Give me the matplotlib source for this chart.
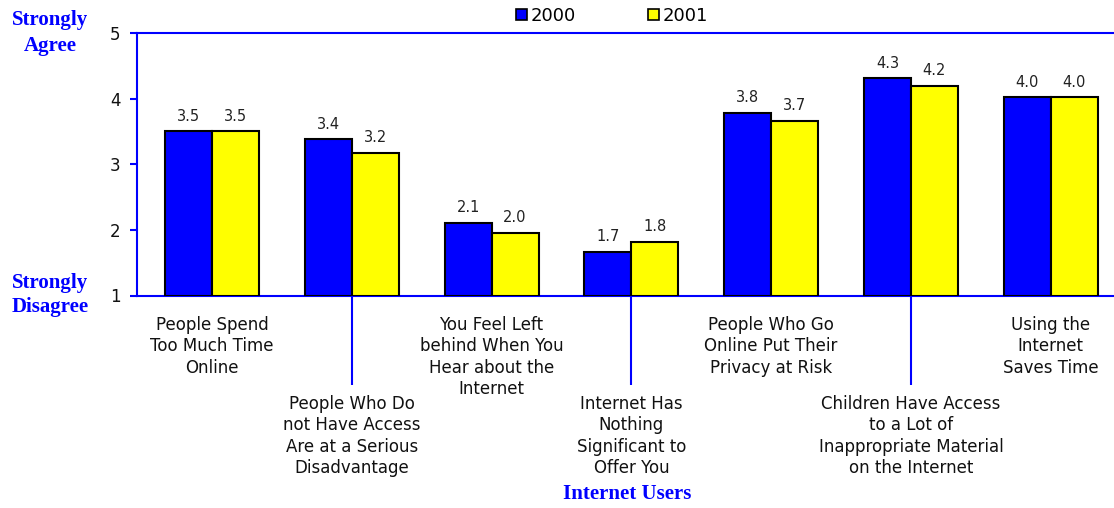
import matplotlib
matplotlib.use("Agg")
import matplotlib.pyplot as plt
from matplotlib.patches import Patch
from matplotlib.transforms import blended_transform_factory
import numpy as np

categories = [
    "People Spend\nToo Much Time\nOnline",
    "People Who Do\nnot Have Access\nAre at a Serious\nDisadvantage",
    "You Feel Left\nbehind When You\nHear about the\nInternet",
    "Internet Has\nNothing\nSignificant to\nOffer You",
    "People Who Go\nOnline Put Their\nPrivacy at Risk",
    "Children Have Access\nto a Lot of\nInappropriate Material\non the Internet",
    "Using the\nInternet\nSaves Time",
]
series_names = ["2000", "2001"]
values_2000 = [3.50, 3.38, 2.11, 1.67, 3.78, 4.31, 4.02]
values_2001 = [3.50, 3.17, 1.96, 1.82, 3.66, 4.20, 4.02]
yticks = [1, 2, 3, 4, 5]

BLUE = "#0000FF"
YELLOW = "#FFFF00"

W, H = 1114, 508
fig = plt.figure(figsize=(W / 100, H / 100), dpi=100)
ax_left, ax_right = 137 / W, 1114 / W
ax_top, ax_bot = 1 - 33 / H, 1 - 295.5 / H
ax = fig.add_axes([ax_left, ax_bot, ax_right - ax_left, ax_top - ax_bot])

x = np.arange(len(categories))
bw = 0.336
ax.bar(x - bw / 2, np.array(values_2000) - 1, bw, bottom=1, color=BLUE,
       edgecolor="black", linewidth=1.5, zorder=3)
ax.bar(x + bw / 2, np.array(values_2001) - 1, bw, bottom=1, color=YELLOW,
       edgecolor="black", linewidth=1.5, zorder=3)

for xi, v in zip(x - bw / 2, values_2000):
    ax.annotate(f"{v:.1f}", (xi, v), xytext=(0, 5.5), textcoords="offset points",
                ha="center", va="bottom", fontsize=10.5, color="#222222")
for xi, v in zip(x + bw / 2, values_2001):
    ax.annotate(f"{v:.1f}", (xi, v), xytext=(0, 5.5), textcoords="offset points",
                ha="center", va="bottom", fontsize=10.5, color="#222222")

ax.set_xlim(-0.536, 6.452)
ax.set_ylim(1, 5)
ax.set_yticks(yticks)
ax.tick_params(axis="y", direction="out", length=5, width=1.5, color=BLUE,
               labelsize=12, pad=7, labelcolor="#111111")

# leader ticks for staggered labels
ax.set_xticks([1, 3, 5])
ax.set_xticklabels([])
ax.tick_params(axis="x", direction="out", length=64, width=1.5, color=BLUE)

for s in ["left", "top", "bottom"]:
    ax.spines[s].set_color(BLUE)
    ax.spines[s].set_linewidth(1.5)
ax.spines["right"].set_visible(False)

trans = blended_transform_factory(ax.transData, fig.transFigure)
for i, lab in enumerate(categories):
    ytop = 316 if i % 2 == 0 else 395
    ax.text(i, 1 - ytop / H, lab, transform=trans, ha="center", va="top",
            fontsize=12, linespacing=1.24, color="#111111", clip_on=False)

serif = "Liberation Serif"
fig.text(50 / W, 1 - 33 / H, "Strongly\nAgree", ha="center", va="center",
         fontsize=15, fontweight="bold", family=serif, color=BLUE, linespacing=1.4)
fig.text(50 / W, 1 - 295 / H, "Strongly\nDisagree", ha="center", va="center",
         fontsize=15, fontweight="bold", family=serif, color=BLUE, linespacing=1.25)
fig.text(627 / W, 1 - 494 / H, "Internet Users", ha="center", va="center",
         fontsize=15, fontweight="bold", family=serif, color=BLUE)

handles = [Patch(facecolor=BLUE, edgecolor="black", linewidth=1.2),
           Patch(facecolor=YELLOW, edgecolor="black", linewidth=1.2)]
fig.legend(handles, series_names, loc="center", bbox_to_anchor=(612 / W, 1 - 16 / H),
           ncol=2, frameon=False, fontsize=13, handlelength=0.6, handleheight=0.6,
           handletextpad=0.2, columnspacing=4.0, borderaxespad=0, borderpad=0)

fig.savefig("out.png", dpi=100)
